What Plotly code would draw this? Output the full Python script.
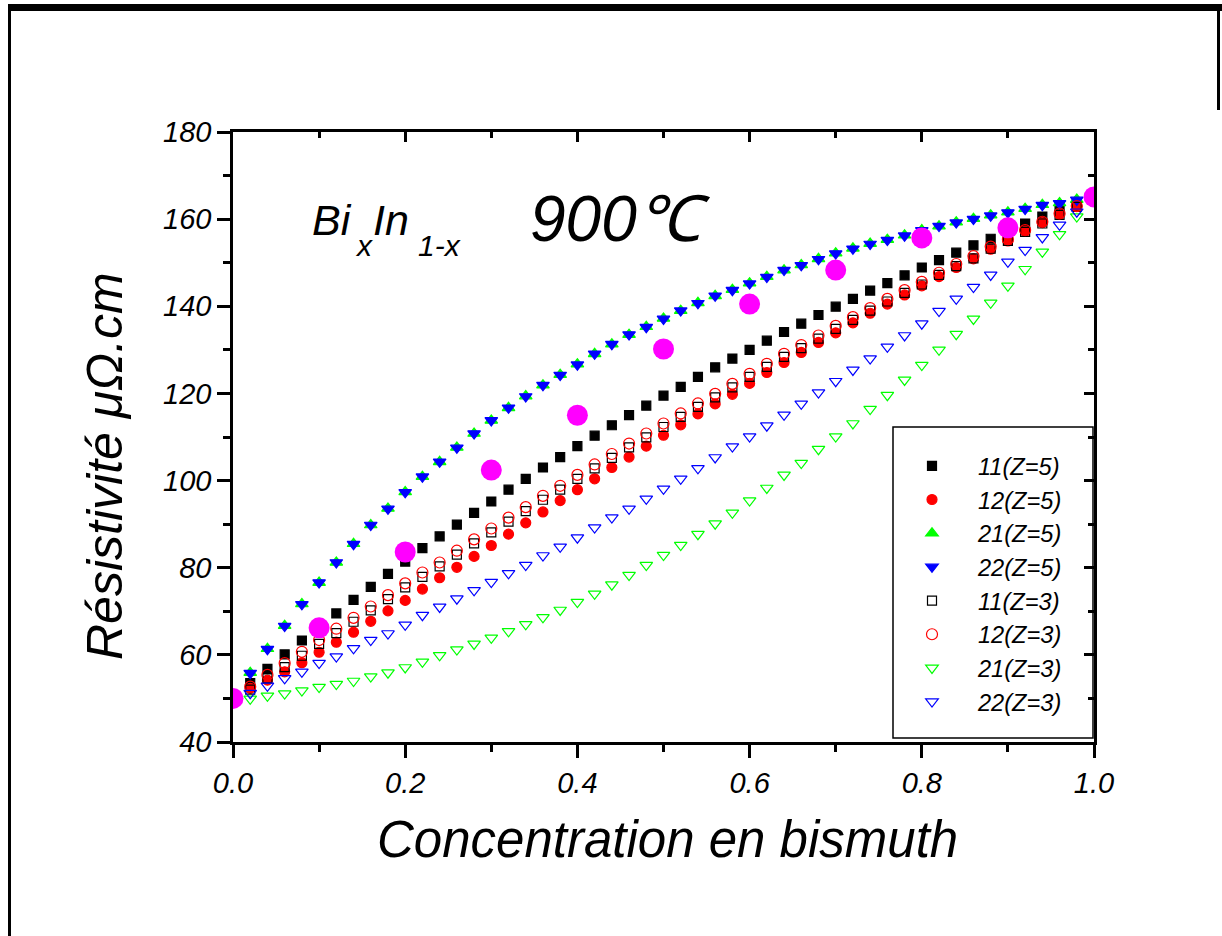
import plotly.graph_objects as go

# ---------------- data ----------------
conc = [round(i * 0.02, 2) for i in range(51)]

s11_z5 = [50.0, 53.5, 56.8, 60.1, 63.3, 66.4, 69.5, 72.6, 75.6, 78.6,
          81.4, 84.5, 87.2, 89.9, 92.6, 95.2, 97.9, 100.4, 103.0, 105.4,
          107.9, 110.3, 112.7, 115.0, 117.2, 119.5, 121.5, 123.8, 126.0, 128.0,
          130.0, 132.1, 134.1, 136.0, 138.0, 139.9, 141.7, 143.6, 145.3, 147.1,
          148.9, 150.6, 152.3, 154.0, 155.5, 157.2, 159.0, 160.6, 162.3, 163.6, 165.0]

s12_z5 = [50.0, 52.3, 54.2, 56.1, 58.2, 60.6, 62.9, 65.2, 67.7, 70.1,
          72.5, 75.1, 77.7, 80.1, 82.6, 85.1, 87.7, 90.3, 92.8, 95.4,
          97.9, 100.4, 103.0, 105.4, 107.9, 110.4, 112.8, 115.3, 117.6, 119.8,
          122.3, 124.8, 127.1, 129.4, 131.7, 133.9, 136.2, 138.4, 140.5, 142.6,
          144.7, 146.8, 148.9, 150.9, 153.1, 155.0, 157.2, 159.2, 161.1, 162.9, 165.0]

s21_z5 = [50.0, 55.9, 61.4, 66.7, 71.7, 76.6, 81.2, 85.5, 89.8, 93.6,
          97.4, 100.9, 104.3, 107.6, 110.8, 113.8, 116.7, 119.4, 121.9, 124.3,
          126.7, 129.1, 131.3, 133.5, 135.3, 137.2, 139.0, 140.8, 142.4, 143.8,
          145.3, 146.8, 148.3, 149.5, 150.9, 152.2, 153.3, 154.4, 155.3, 156.3,
          157.5, 158.4, 159.3, 160.1, 160.9, 161.6, 162.4, 163.3, 163.7, 164.5, 165.0]

s22_z5 = [50.0, 55.8, 61.3, 66.6, 71.6, 76.6, 81.2, 85.4, 89.8, 93.5,
          97.3, 100.9, 104.3, 107.5, 110.8, 113.8, 116.7, 119.3, 121.9, 124.2,
          126.6, 129.1, 131.3, 133.5, 135.2, 137.1, 139.0, 140.7, 142.4, 143.7,
          145.2, 146.7, 148.3, 149.4, 150.8, 152.1, 153.2, 154.3, 155.2, 156.2,
          157.4, 158.4, 159.2, 160.0, 160.8, 161.5, 162.3, 163.2, 163.6, 164.4, 165.0]

s11_z3 = [50.0, 52.0, 54.6, 57.2, 59.8, 62.5, 65.0, 67.6, 70.2, 72.8,
          75.5, 77.9, 80.3, 83.0, 85.6, 88.1, 90.6, 93.0, 95.6, 97.9,
          100.4, 102.8, 105.2, 107.6, 109.9, 112.3, 114.6, 116.9, 119.1, 121.4,
          123.8, 126.1, 128.4, 130.4, 132.6, 134.8, 136.9, 139.0, 141.1, 143.1,
          145.0, 147.2, 149.2, 151.0, 153.2, 155.0, 157.1, 159.0, 161.0, 162.8, 165.0]

s12_z3 = [50.0, 52.7, 55.4, 58.1, 60.7, 63.4, 66.0, 68.5, 71.1, 73.7,
          76.4, 78.9, 81.2, 83.9, 86.5, 89.0, 91.5, 93.9, 96.5, 98.8,
          101.3, 103.7, 106.1, 108.5, 110.8, 113.1, 115.4, 117.7, 119.9, 122.2,
          124.5, 126.8, 129.1, 131.1, 133.3, 135.5, 137.5, 139.6, 141.7, 143.7,
          145.6, 147.7, 149.7, 151.5, 153.7, 155.4, 157.5, 159.4, 161.3, 163.0, 165.0]

s21_z3 = [50.0, 49.9, 50.6, 51.1, 51.8, 52.6, 53.3, 54.0, 55.0, 55.9,
          57.1, 58.4, 59.9, 61.2, 62.5, 63.9, 65.4, 67.0, 68.6, 70.3,
          72.1, 74.0, 76.1, 78.3, 80.6, 82.9, 85.2, 87.7, 90.1, 92.6,
          95.4, 98.3, 101.3, 104.0, 107.2, 110.1, 113.1, 116.4, 119.6, 123.1,
          126.5, 130.0, 133.6, 137.1, 140.8, 144.7, 148.5, 152.5, 156.5, 160.6, 165.0]

s22_z3 = [50.0, 51.2, 52.9, 54.6, 56.1, 58.1, 59.6, 61.5, 63.4, 64.9,
          66.9, 69.1, 71.0, 72.9, 74.8, 76.7, 78.7, 80.6, 82.8, 84.8,
          86.9, 89.2, 91.5, 93.5, 95.8, 98.1, 100.4, 102.8, 105.3, 107.8,
          110.1, 112.6, 115.1, 117.6, 120.2, 122.8, 125.4, 128.0, 130.7, 133.3,
          136.0, 138.9, 141.7, 144.4, 147.2, 150.2, 152.9, 155.8, 158.7, 161.7, 165.0]

exp_x = [0.0, 0.1, 0.2, 0.3, 0.4, 0.5, 0.6, 0.7, 0.8, 0.9, 1.0]
exp_y = [50.0, 66.2, 83.6, 102.4, 115.0, 130.2, 140.5, 148.3, 155.7, 158.0, 165.1]

series_names = ["11(Z=5)", "12(Z=5)", "21(Z=5)", "22(Z=5)",
                "11(Z=3)", "12(Z=3)", "21(Z=3)", "22(Z=3)"]
series_values = [s11_z5, s12_z5, s21_z5, s22_z5, s11_z3, s12_z3, s21_z3, s22_z3]
series_symbols = ["square", "circle", "triangle-up", "triangle-down",
                  "square-open", "circle-open", "triangle-down-open", "triangle-down-open"]
series_colors = ["#000000", "#FF0000", "#00FF00", "#0000FF",
                 "#000000", "#FF0000", "#00FF00", "#0000FF"]
series_sizes = [9, 10, 11, 11, 9, 11, 11, 11]

x_ticks = [0.0, 0.2, 0.4, 0.6, 0.8, 1.0]
x_ticklabels = ["0.0", "0.2", "0.4", "0.6", "0.8", "1.0"]
y_ticks = [40, 60, 80, 100, 120, 140, 160, 180]

# ---------------- layout geometry ----------------
W, H = 1222, 936
L, R, T, B = 233, 1094, 132, 742
PW, PH = R - L, B - T


def px(xp):
    return (xp - L) / PW


def py(yp):
    return (B - yp) / PH


FONT = "Arial, Liberation Sans, sans-serif"

fig = go.Figure()

for name, vals, sym, col, sz in zip(series_names, series_values, series_symbols,
                                    series_colors, series_sizes):
    fig.add_trace(go.Scatter(
        x=conc, y=vals, mode="markers", name=name,
        marker=dict(symbol=sym, color=col, size=sz, line=dict(color=col, width=1.2)),
    ))

fig.add_trace(go.Scatter(
    x=exp_x, y=exp_y, mode="markers", showlegend=False,
    marker=dict(symbol="circle", color="#FF00FF", size=21, line=dict(width=0)),
))

axis_font = dict(family=FONT, size=29, color="black", style="italic")

fig.update_layout(
    width=W, height=H,
    margin=dict(l=L, r=W - R, t=T, b=H - B),
    paper_bgcolor="white", plot_bgcolor="white",
    showlegend=True,
    xaxis=dict(range=[0, 1], tickvals=x_ticks, ticktext=x_ticklabels,
               ticks="outside", ticklen=13, tickwidth=2.5, tickcolor="black",
               minor=dict(dtick=0.1, tick0=0, ticks="outside", ticklen=7, tickwidth=2.5, tickcolor="black"),
               showline=True, linewidth=2.5, linecolor="black",
               showgrid=False, zeroline=False, tickfont=axis_font),
    yaxis=dict(range=[40, 180], tickvals=y_ticks,
               ticks="outside", ticklen=13, tickwidth=2.5, tickcolor="black",
               minor=dict(dtick=10, tick0=40, ticks="outside", ticklen=7, tickwidth=2.5, tickcolor="black"),
               showline=True, linewidth=2.5, linecolor="black",
               showgrid=False, zeroline=False, tickfont=axis_font),
    xaxis2=dict(range=[0, 1], overlaying="x", side="top", tickvals=x_ticks,
                ticks="inside", ticklen=10, tickwidth=2.5, tickcolor="black",
                minor=dict(dtick=0.1, tick0=0, ticks="inside", ticklen=6, tickwidth=2.5, tickcolor="black"),
                showticklabels=False, showline=True, linewidth=2.5, linecolor="black",
                showgrid=False, zeroline=False),
    yaxis2=dict(range=[40, 180], overlaying="y", side="right", tickvals=y_ticks,
                ticks="inside", ticklen=10, tickwidth=2.5, tickcolor="black",
                minor=dict(dtick=10, tick0=40, ticks="inside", ticklen=6, tickwidth=2.5, tickcolor="black"),
                showticklabels=False, showline=True, linewidth=2.5, linecolor="black",
                showgrid=False, zeroline=False),
    legend=dict(x=px(886), y=py(444), xanchor="left", yanchor="top",
                bgcolor="rgba(0,0,0,0)", borderwidth=0,
                font=dict(family=FONT, size=23.6, color="black", style="italic"),
                itemwidth=82, tracegroupgap=0),
)

# invisible trace so the mirrored axes are drawn
fig.add_trace(go.Scatter(x=[None], y=[None], xaxis="x2", yaxis="y2",
                         showlegend=False, hoverinfo="skip"))

# legend frame
fig.add_shape(type="rect", xref="paper", yref="paper",
              x0=px(893), x1=px(1093), y0=py(738), y1=py(427),
              line=dict(color="black", width=1.5), fillcolor="rgba(0,0,0,0)", layer="above")

fig.add_annotation(text="Concentration en bismuth", xref="paper", yref="paper",
                   x=px(667), y=py(839), xanchor="center", yanchor="middle", showarrow=False,
                   font=dict(family=FONT, size=51, color="black", style="italic"))
fig.add_annotation(text="Résistivité μΩ.cm", xref="paper", yref="paper",
                   x=px(105), y=py(466), xanchor="center", yanchor="middle", showarrow=False,
                   textangle=-90,
                   font=dict(family=FONT, size=50, color="black", style="italic"))

# Bi_x In_1-x built from pieces
title_parts = [("Bi", 310, 220, 43), ("x", 353, 245, 30), ("In", 371, 220, 43), ("1-x", 416, 245, 30)]
for txt, xl, yc, fs in title_parts:
    fig.add_annotation(text=txt, xref="paper", yref="paper",
                       x=px(xl), y=py(yc), xanchor="left", yanchor="middle", showarrow=False,
                       font=dict(family=FONT, size=fs, color="black", style="italic"))
fig.add_annotation(text="900℃", xref="paper", yref="paper",
                   x=px(528), y=py(219), xanchor="left", yanchor="middle", showarrow=False,
                   font=dict(family=FONT, size=64, color="black", style="italic"))

# outer frame (page border)
frame = [
    (8, 4, 1222, 11),     # top thick bar
    (8, 4, 11, 936),      # left line
    (1217, 4, 1220, 110), # right line stub
]
for x0, y0, x1, y1 in frame:
    fig.add_shape(type="rect", xref="paper", yref="paper",
                  x0=px(x0), x1=px(x1), y0=py(y1), y1=py(y0),
                  fillcolor="black", line=dict(width=0), layer="above")

fig.write_html("out.html",
               config={"displayModeBar": False},
               post_script="document.body.style.margin='0';document.body.style.overflow='hidden';")
